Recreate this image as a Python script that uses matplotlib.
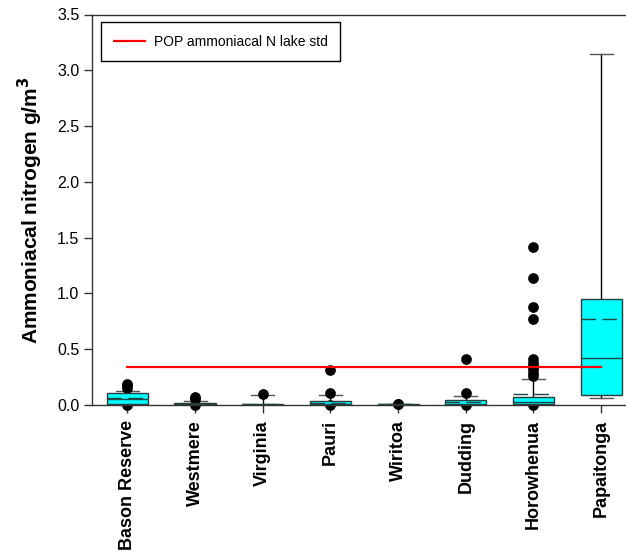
import matplotlib
matplotlib.use("Agg")
import matplotlib.pyplot as plt

plt.rcParams['font.family'] = ['Liberation Sans', 'DejaVu Sans']

categories = ["Bason Reserve", "Westmere", "Virginia", "Pauri", "Wiritoa",
              "Dudding", "Horowhenua", "Papaitonga"]
q1 = [0.012, 0.004, 0.002, 0.004, 0.002, 0.003, 0.006, 0.09]
median = [0.05, 0.008, 0.004, 0.010, 0.004, 0.010, 0.024, 0.425]
q3 = [0.105, 0.015, 0.010, 0.035, 0.008, 0.045, 0.070, 0.95]
mean = [0.065, 0.012, 0.006, 0.020, 0.005, 0.030, 0.100, 0.77]
whisker_low = [0.005, 0.002, 0.001, 0.002, 0.0, 0.002, 0.003, 0.065]
whisker_high = [0.125, 0.040, 0.088, 0.090, 0.010, 0.085, 0.233, 3.15]
outliers = [
    [0.0, 0.15, 0.18, 0.19],
    [0.0, 0.055, 0.075],
    [0.095],
    [0.0, 0.11, 0.31],
    [0.009, 0.012],
    [0.0, 0.11, 0.41],
    [0.0, 0.26, 0.29, 0.32, 0.35, 0.38, 0.41, 0.77, 0.88, 1.14, 1.42],
    [],
]
lake_std = 0.34
std_label = "POP ammoniacal N lake std"

stats = []
for i, name in enumerate(categories):
    stats.append(dict(label=name, q1=q1[i], med=median[i], q3=q3[i],
                      mean=mean[i], whislo=whisker_low[i],
                      whishi=whisker_high[i], fliers=outliers[i]))

fig = plt.figure(figsize=(6.26, 5.54), dpi=100)
ax = fig.add_axes([92 / 626, 149 / 554, 543 / 626, 390.5 / 554])

positions = list(range(1, len(categories) + 1))
bp = ax.bxp(stats, positions=positions, widths=0.61, patch_artist=True,
            showmeans=True, meanline=True, showfliers=True,
            capwidths=0.34,
            boxprops=dict(facecolor='#00ffff', edgecolor='#2b3b3b',
                          linewidth=1.0, zorder=3),
            medianprops=dict(color='#1f4545', linewidth=1.0, zorder=4),
            meanprops=dict(color='#1f4545', linewidth=1.0,
                           linestyle=(0, (10.5, 4.5)), zorder=4),
            whiskerprops=dict(color='black', linewidth=1.0, zorder=2),
            capprops=dict(color='#555555', linewidth=1.0, zorder=2),
            flierprops=dict(marker='o', markerfacecolor='black',
                            markeredgecolor='black', markersize=6.7,
                            linestyle='none', zorder=2))
for fl in bp['fliers']:
    fl.set_clip_on(False)

ax.plot([positions[0], positions[-1]], [lake_std, lake_std], color='red',
        linewidth=1.6, label=std_label, zorder=5)

ax.set_xlim(0.476, 8.5)
ax.set_ylim(0, 3.5)
ax.set_yticks([0.0, 0.5, 1.0, 1.5, 2.0, 2.5, 3.0, 3.5])
ax.set_yticklabels([f"{v:.1f}" for v in ax.get_yticks()], fontsize=11.5)
ax.set_xticks(positions)
ax.set_xticklabels(categories, rotation=90, fontsize=13, fontweight='bold')
ax.tick_params(axis='both', direction='out', length=6, width=1,
               color='#333333')
ax.tick_params(axis='y', pad=3)
ax.tick_params(axis='x', pad=5)
for side in ['left', 'bottom', 'top']:
    ax.spines[side].set_linewidth(1.0)
    ax.spines[side].set_color('#333333')
ax.spines['right'].set_visible(False)

ax.set_ylabel("Ammoniacal nitrogen g/m$^\\mathbf{3}$", fontsize=15,
              fontweight='bold', labelpad=9)

leg = ax.legend(loc='upper left', bbox_to_anchor=(9 / 543, 1 - 7.5 / 390.5),
                fontsize=10, frameon=True, fancybox=False, framealpha=1,
                edgecolor='black', handlelength=2.3, handletextpad=0.6,
                borderpad=0.9, borderaxespad=0)
leg.get_frame().set_linewidth(1.0)

fig.savefig("out.png", dpi=100, facecolor='white')
